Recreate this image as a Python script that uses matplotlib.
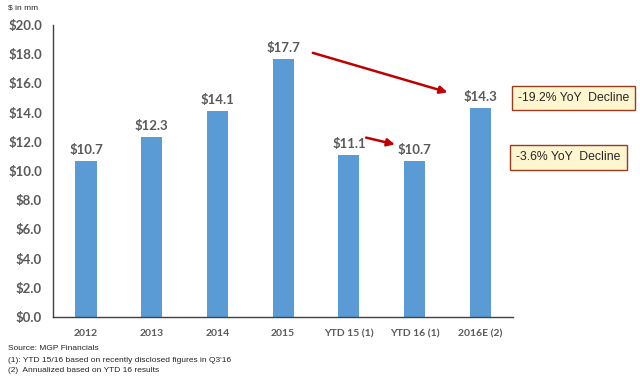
import matplotlib
matplotlib.use("Agg")
import matplotlib.pyplot as plt

categories = ["2012", "2013", "2014", "2015", "YTD 15 (1)", "YTD 16 (1)", "2016E (2)"]
values = [10.7, 12.3, 14.1, 17.7, 11.1, 10.7, 14.3]
yticks = [0, 2, 4, 6, 8, 10, 12, 14, 16, 18, 20]
footnotes = ["Source: MGP Financials",
             "(1): YTD 15/16 based on recently disclosed figures in Q3'16",
             "(2)  Annualized based on YTD 16 results"]

plt.rcParams['font.family'] = ['Lato', 'DejaVu Sans']
gray = "#595959"

fig = plt.figure(figsize=(6.4, 3.8), dpi=100)
ax = fig.add_axes([0.083, 0.166, 0.719, 0.768])
x = list(range(len(categories)))
ax.bar(x, values, width=0.32, color="#5B9BD5", zorder=2)
for xi, v in zip(x, values):
    ax.text(xi, v + 0.35, f"${v:.1f}", ha="center", va="bottom",
            fontsize=9.5, fontweight="bold", color=gray)

ax.set_xlim(-0.5, 6.5)
ax.set_ylim(0, 20)
ax.set_yticks(yticks)
ax.set_yticklabels([f"${t:.1f}" for t in yticks], fontsize=9.5, fontweight="bold", color=gray)
ax.set_xticks(x)
ax.set_xticklabels(categories, fontsize=7.5, fontweight="bold", color=gray)
ax.tick_params(axis="both", length=0)
ax.tick_params(axis="y", pad=8)
ax.tick_params(axis="x", pad=9)
for s in ["top", "right"]:
    ax.spines[s].set_visible(False)
for s in ["left", "bottom"]:
    ax.spines[s].set_color("#404040")
    ax.spines[s].set_linewidth(1.0)

arrow_kw = dict(arrowstyle="-|>,head_length=0.45,head_width=0.22", color="#C00000", lw=1.8)
ax.annotate("", xy=(5.54, 15.34), xytext=(3.41, 18.15), arrowprops=arrow_kw, annotation_clip=False)
ax.annotate("", xy=(4.74, 11.78), xytext=(4.22, 12.33), arrowprops=arrow_kw, annotation_clip=False)

box = dict(boxstyle="square,pad=0.5", fc="#FFF6D0", ec="#9C3A1E", lw=1)
fig.text(0.896, 1 - 98 / 380, "-19.2% YoY  Decline", ha="center", va="center",
         fontsize=8.8, color="#262626", family=["Liberation Sans", "DejaVu Sans"], bbox=box)
fig.text(0.888, 1 - 157.5 / 380, "-3.6% YoY  Decline", ha="center", va="center",
         fontsize=8.8, color="#262626", family=["Liberation Sans", "DejaVu Sans"], bbox=box)

fig.text(8 / 640, 1 - 8 / 380, "$ in mm", fontsize=6, color="#262626", va="center",
         family=["Liberation Sans", "DejaVu Sans"])
for i, t in enumerate(footnotes):
    fig.text(8 / 640, 1 - (349 + 11 * i) / 380, t, fontsize=6, color="#262626", va="center",
             family=["Liberation Sans", "DejaVu Sans"])

fig.savefig("out.png", dpi=100)
